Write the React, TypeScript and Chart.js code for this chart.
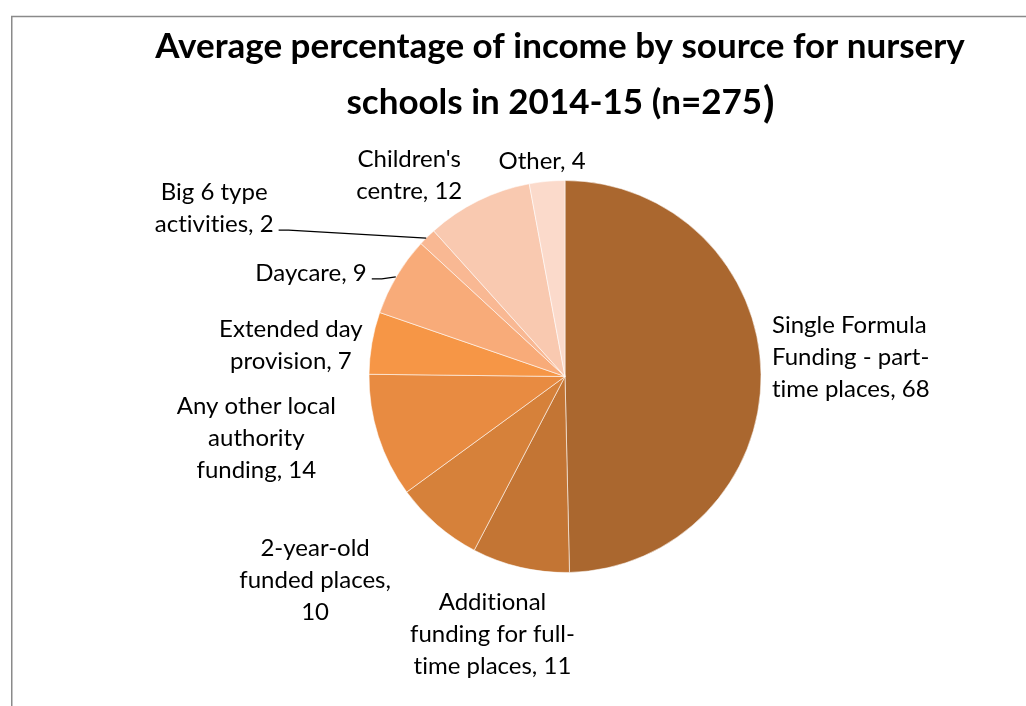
import { useEffect, useRef } from "react";
import { Chart, registerables } from "chart.js";

Chart.register(...registerables);

// ---- data ----
const categories = [
  "Single Formula Funding - part-time places",
  "Additional funding for full-time places",
  "2-year-old funded places",
  "Any other local authority funding",
  "Extended day provision",
  "Daycare",
  "Big 6 type activities",
  "Children's centre",
  "Other",
];
const values = [68, 11, 10, 14, 7, 9, 2, 12, 4];
const sliceColors = [
  "#AA672F",
  "#C37534",
  "#D6813A",
  "#E88B41",
  "#F69646",
  "#F8AB79",
  "#F9B893",
  "#F9C9B0",
  "#FBDACB",
];
// label text, split into lines; {v} is replaced by the value
const labelLines = [
  ["Single Formula", "Funding - part-", "time places, {v}"],
  ["Additional", "funding for full-", "time places, {v}"],
  ["2-year-old", "funded places,", "{v}"],
  ["Any other local", "authority", "funding, {v}"],
  ["Extended day", "provision, {v}"],
  ["Daycare, {v}"],
  ["Big 6 type", "activities, {v}"],
  ["Children's", "centre, {v}"],
  ["Other, {v}"],
];
const titleLine1 = "Average percentage of income by source for nursery";
const titleLine2 = "schools in 2014-15 (n=275";
const titleClose = ")";

// ---- label layout (offset of label block from the slice's outer mid point) ----
const labelPlace: [number, number, CanvasTextAlign, boolean][] = [
  [11, -17, "left", false],
  [-28, 67, "center", false],
  [-122, 55, "center", false],
  [-122, 2, "center", false],
  [-81, 2, "center", false],
  [-30, -3, "right", true],
  [-213, -29, "center", true],
  [-69, -25, "center", false],
  [-5, -20, "center", false],
];

const LABEL_FONT = "24px Lato";
const LINE_H = 32;

const framePlugin = {
  id: "frame",
  beforeDraw(chart: any) {
    const ctx = chart.ctx;
    ctx.save();
    ctx.fillStyle = "#ffffff";
    ctx.fillRect(0, 0, chart.width, chart.height);
    ctx.strokeStyle = "#8a8a8a";
    ctx.lineWidth = 1.5;
    ctx.beginPath();
    ctx.moveTo(chart.width, 16.5);
    ctx.lineTo(11.75, 16.5);
    ctx.lineTo(11.75, chart.height);
    ctx.stroke();
    ctx.restore();
  },
};

const titlePlugin = {
  id: "customTitle",
  afterDraw(chart: any) {
    const ctx = chart.ctx;
    ctx.save();
    ctx.fillStyle = "#000000";
    ctx.textBaseline = "alphabetic";
    ctx.font = "bold 35px Lato";
    ctx.textAlign = "center";
    const cx = 560;
    ctx.fillText(titleLine1, cx, 58);
    const w2 = ctx.measureText(titleLine2).width;
    ctx.font = "bold 42px Lato";
    const wc = ctx.measureText(titleClose).width;
    const start = cx - (w2 + wc) / 2;
    ctx.textAlign = "left";
    ctx.font = "bold 35px Lato";
    ctx.fillText(titleLine2, start, 114);
    ctx.font = "bold 42px Lato";
    ctx.fillText(titleClose, start + w2 + 1, 117);
    ctx.restore();
  },
};

const labelPlugin = {
  id: "sliceLabels",
  afterDatasetsDraw(chart: any) {
    const ctx = chart.ctx;
    const meta = chart.getDatasetMeta(0);
    const data = chart.data.datasets[0].data as number[];
    ctx.save();
    try {
      (ctx as any).textRendering = "optimizeSpeed";
    } catch (e) {
      /* ignore */
    }
    ctx.font = LABEL_FONT;
    ctx.fillStyle = "#000000";
    ctx.textBaseline = "middle";
    meta.data.forEach((arc: any, i: number) => {
      const p = arc.getProps(["x", "y", "startAngle", "endAngle", "outerRadius"], true);
      const mid = (p.startAngle + p.endAngle) / 2;
      const px = p.x + Math.cos(mid) * p.outerRadius;
      const py = p.y + Math.sin(mid) * p.outerRadius;
      const [dx, dy, align, leader] = labelPlace[i];
      const lx = px + dx;
      const ly = py + dy;
      const lines = labelLines[i].map((s) => s.replace("{v}", String(data[i])));
      const n = lines.length;
      ctx.textAlign = align;
      lines.forEach((s, k) => {
        ctx.fillText(s, lx, ly - ((n - 1) * LINE_H) / 2 + k * LINE_H);
      });
      if (leader) {
        const last = lines[n - 1];
        const w = ctx.measureText(last).width;
        let ex = lx;
        if (align === "center") ex = lx + w / 2;
        else if (align === "left") ex = lx + w;
        const sy = ly + ((n - 1) * LINE_H) / 2 + 6;
        const sx = ex + 5;
        ctx.strokeStyle = "#000000";
        ctx.lineWidth = 1.2;
        ctx.beginPath();
        ctx.moveTo(sx, sy);
        ctx.lineTo(sx + 10, sy);
        ctx.lineTo(px - 1, py + 1);
        ctx.stroke();
      }
    });
    ctx.restore();
  },
};

export default function App() {
  const ref = useRef<HTMLCanvasElement | null>(null);
  useEffect(() => {
    document.body.style.margin = "0";
    const canvas = ref.current;
    if (!canvas) return;
    const chart = new Chart(canvas, {
      type: "pie",
      data: {
        labels: categories,
        datasets: [
          {
            data: values,
            backgroundColor: sliceColors,
            borderColor: "rgba(255,255,255,0.55)",
            borderWidth: 1,
          },
        ],
      },
      options: {
        responsive: false,
        animation: false,
        devicePixelRatio: 1,
        rotation: 0,
        layout: { padding: { top: 180, bottom: 133, left: 368.5, right: 264.5 } },
        plugins: {
          legend: { display: false },
          title: { display: false },
          tooltip: { enabled: false },
        },
      },
      plugins: [framePlugin, labelPlugin, titlePlugin],
    });
    return () => chart.destroy();
  }, []);
  return (
    <div style={{ position: "absolute", left: 0, top: 0, width: 1026, height: 706 }}>
      <canvas ref={ref} width={1026} height={706} />
    </div>
  );
}
